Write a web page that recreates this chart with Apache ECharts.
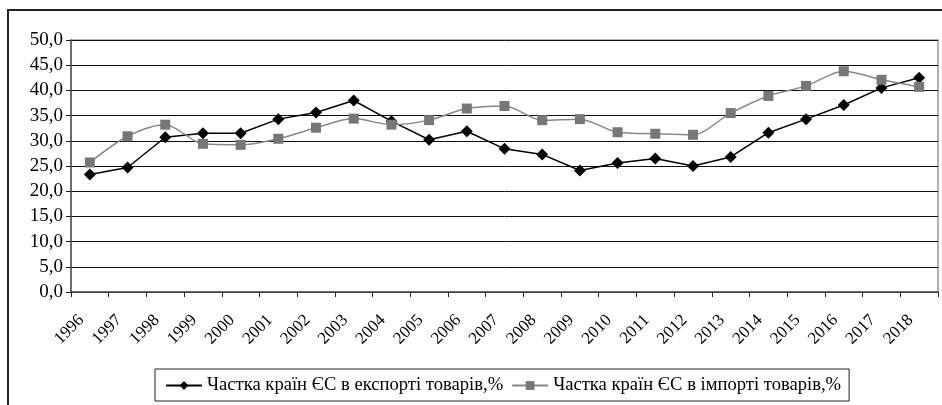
<!DOCTYPE html>
<html>
<head>
<meta charset="utf-8">
<script src="https://cdn.jsdelivr.net/npm/echarts@6/dist/echarts.min.js"></script>
<style>
  html, body { margin: 0; padding: 0; background: #fff; }
  #chart { width: 942px; height: 405px; }
</style>
</head>
<body>
<div id="chart"></div>
<script>
// роки
var years = ['1996', '1997', '1998', '1999', '2000', '2001', '2002', '2003', '2004', '2005', '2006', '2007',
  '2008', '2009', '2010', '2011', '2012', '2013', '2014', '2015', '2016', '2017', '2018'];
// частка ЄС в експорті, %
var exportShare = [23.3, 24.7, 30.7, 31.5, 31.5, 34.3, 35.6, 38.0, 33.9, 30.2, 31.9, 28.4,
  27.3, 24.1, 25.6, 26.5, 25.0, 26.8, 31.6, 34.3, 37.1, 40.5, 42.5];
// частка ЄС в імпорті, %
var importShare = [25.7, 30.9, 33.2, 29.4, 29.2, 30.4, 32.6, 34.4, 33.2, 34.1, 36.4, 36.9,
  34.1, 34.3, 31.7, 31.4, 31.2, 35.5, 38.9, 40.9, 43.8, 42.1, 40.7];
var seriesNames = ['Частка країн ЄС в експорті товарів,%', 'Частка країн ЄС в імпорті товарів,%'];

var serif = '"Liberation Serif", "DejaVu Serif", serif';
var chart = echarts.init(document.getElementById('chart'));

chart.setOption({
  animation: false,
  backgroundColor: '#fff',
  // зовнішня рамка
  graphic: [{
    type: 'rect',
    shape: { x: 8, y: 10, width: 960, height: 420 },
    style: { fill: 'none', stroke: '#222', lineWidth: 2 },
    silent: true
  }],
  grid: {
    left: 71, right: 4, top: 40, height: 252,
    show: true, borderColor: '#999', borderWidth: 1.5
  },
  legend: {
    left: 155, top: 369,
    padding: [7, 8, 6, 10],
    borderColor: '#222', borderWidth: 1,
    itemWidth: 36, itemHeight: 11, itemGap: 8,
    textStyle: { fontFamily: serif, fontSize: 18.6, color: '#000' },
    data: seriesNames
  },
  xAxis: {
    type: 'category',
    data: years,
    boundaryGap: true,
    axisLine: { lineStyle: { color: '#555', width: 1.5 } },
    axisTick: { show: true, length: 5, lineStyle: { color: '#222' } },
    axisLabel: {
      rotate: 45, margin: 17, interval: 0,
      padding: [0, 12, 0, 0],
      fontFamily: serif, fontSize: 17, color: '#000'
    },
    splitLine: { show: false }
  },
  yAxis: {
    type: 'value',
    min: 0, max: 50, interval: 5,
    axisLine: { show: true, lineStyle: { color: '#555', width: 1.5 } },
    axisTick: { show: true, length: 5, lineStyle: { color: '#222' } },
    axisLabel: {
      margin: 8, fontFamily: serif, fontSize: 19, color: '#000',
      formatter: function (v) { return v.toFixed(1).replace('.', ','); }
    },
    splitLine: { lineStyle: { color: '#111', width: 1 } }
  },
  series: [
    {
      name: seriesNames[0],
      type: 'line',
      data: exportShare,
      symbol: 'diamond', symbolSize: 12,
      itemStyle: { color: '#000' },
      lineStyle: { color: '#000', width: 1.5 }
    },
    {
      name: seriesNames[1],
      type: 'line',
      data: importShare,
      smooth: 0.3,
      symbol: 'rect', symbolSize: 10,
      itemStyle: { color: '#777' },
      lineStyle: { color: '#888', width: 1.5 }
    }
  ]
});
</script>
</body>
</html>
